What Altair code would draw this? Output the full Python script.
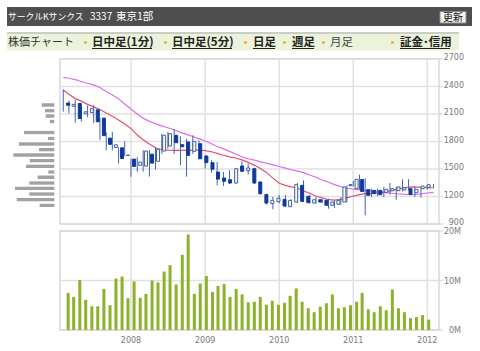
import altair as alt
import pandas as pd

# ---------------- data ----------------
month_start = "2007-02-01"
n_months = 61

opens = [2220, 2184, 2215, 2102, 2116, 2146, 2055, 1837, 1735, 1731,
         1648, 1608, 1540, 1531, 1662, 1584, 1696, 1751, 1868, 1765,
         1795, 1693, 1776, 1642, 1569, 1467, 1402, 1383, 1347, 1533,
         1482, 1503, 1358, 1220, 1122, 1144, 1169, 1089, 1140, 1322,
         1202, 1129, 1165, 1158, 1104, 1115, 1140, 1318, 1285, 1385,
         1275, 1267, 1267, 1242, 1262, 1264, 1271, 1285, 1242, 1285, 1300]
highs = [2369, 2245, 2256, 2172, 2193, 2196, 2060, 1900, 1905, 1737,
         1802, 1613, 1630, 1705, 1708, 1740, 1885, 1904, 1935, 1857,
         1831, 1868, 1813, 1649, 1595, 1576, 1467, 1486, 1510, 1584,
         1558, 1514, 1365, 1231, 1195, 1216, 1213, 1170, 1347, 1377,
         1220, 1195, 1173, 1176, 1158, 1195, 1322, 1370, 1438, 1400,
         1285, 1285, 1304, 1347, 1307, 1387, 1391, 1304, 1285, 1322, 1336]
lows = [2125, 2106, 2004, 2018, 2065, 2000, 1818, 1705, 1702, 1560,
        1640, 1415, 1470, 1471, 1418, 1495, 1667, 1721, 1665, 1540,
        1416, 1667, 1606, 1503, 1460, 1322, 1315, 1336, 1340, 1467,
        1438, 1340, 1220, 1111, 1060, 1127, 1085, 1085, 1133, 1140,
        1122, 1122, 1129, 1067, 1075, 1111, 1133, 1310, 1278, 995,
        1195, 1205, 1195, 1220, 1165, 1255, 1267, 1195, 1187, 1278, 1293]
closes = [2195, 2205, 2051, 2124, 2158, 2015, 1864, 1769, 1764, 1615,
          1652, 1528, 1576, 1696, 1564, 1715, 1868, 1885, 1787, 1743,
          1649, 1802, 1612, 1569, 1497, 1390, 1366, 1347, 1503, 1475,
          1511, 1347, 1231, 1129, 1158, 1180, 1096, 1158, 1329, 1147,
          1133, 1165, 1140, 1104, 1140, 1158, 1304, 1330, 1387, 1255,
          1213, 1231, 1220, 1278, 1285, 1304, 1296, 1220, 1278, 1314, 1329]

ma_short = [2362, 2315, 2268, 2240, 2205, 2178, 2150, 2110, 2075, 2035,
            1990, 1943, 1870, 1820, 1772, 1732, 1710, 1705, 1704, 1704,
            1704, 1705, 1705, 1700, 1688, 1670, 1650, 1632, 1620, 1600,
            1572, 1540, 1505, 1460, 1400, 1345, 1322, 1305, 1290, 1260,
            1235, 1205, 1185, 1165, 1160, 1168, 1185, 1205, 1220, 1232,
            1235, 1240, 1245, 1262, 1278, 1292, 1302, 1304, 1300, 1296, 1293]
ma_long = [2500, 2490, 2475, 2455, 2435, 2418, 2390, 2345, 2310, 2265,
           2210, 2155, 2100, 2055, 2020, 1995, 1970, 1950, 1928, 1900,
           1878, 1855, 1832, 1805, 1775, 1745, 1720, 1692, 1664, 1634,
           1612, 1596, 1578, 1562, 1545, 1527, 1510, 1492, 1476, 1460,
           1435, 1410, 1380, 1355, 1330, 1308, 1290, 1280, 1272, 1265,
           1260, 1255, 1245, 1238, 1230, 1225, 1222, 1222, 1228, 1238, 1245]

volume_m = [7.5, 6.7, 10.1, 6.1, 4.8, 4.8, 8.3, 5.0, 10.4, 10.8,
            6.4, 9.8, 6.5, 7.3, 10.0, 9.6, 11.8, 13.1, 9.2, 15.2,
            19.3, 7.3, 9.4, 10.9, 7.7, 8.9, 9.3, 6.7, 8.3, 7.2,
            5.6, 5.7, 6.7, 5.1, 5.9, 5.1, 5.5, 6.9, 8.4, 5.7,
            4.4, 3.6, 4.7, 5.4, 7.2, 4.4, 4.6, 5.0, 5.7, 7.5,
            4.2, 3.6, 4.8, 4.0, 8.2, 4.4, 3.6, 2.4, 2.6, 3.0, 2.1]

# volume-by-price profile (price band centre, relative volume)
vp_price = [2198, 2136, 2078, 2018, 1898, 1833, 1773, 1711, 1653,
            1591, 1529, 1467, 1410, 1347, 1289, 1227, 1165, 1104]
vp_volume = [12.6, 9.3, 8.6, 4.3, 30.3, 6.3, 35.3, 15.3, 41.0,
             24.6, 28.3, 6.0, 16.6, 25.0, 39.3, 25.0, 37.6, 14.6]

price_ticks = [900, 1200, 1500, 1800, 2100, 2400, 2700]
volume_ticks = [0, 10, 20]
volume_labels = ["0M", "10M", "20M"]
year_ticks = ["2008-01-01", "2009-01-01", "2010-01-01", "2011-01-01", "2012-01-01"]
year_labels = ["2008", "2009", "2010", "2011", "2012"]

# ---------------- tables ----------------
df = pd.DataFrame({
    "date": pd.date_range(month_start, periods=n_months, freq="MS"),
    "open": opens, "high": highs, "low": lows, "close": closes,
    "ma_s": ma_short, "ma_l": ma_long, "vol": volume_m,
})
df["dir"] = ["up" if c >= o else "down" for o, c in zip(opens, closes)]

vp = pd.DataFrame({"lo": [p - 18 for p in vp_price],
                   "hi": [p + 18 for p in vp_price],
                   "v": vp_volume})
pt = pd.DataFrame({"p": price_ticks, "label": [str(p) for p in price_ticks]})
vt = pd.DataFrame({"v": volume_ticks, "label": volume_labels})
yt = pd.DataFrame({"d": pd.to_datetime(year_ticks), "label": year_labels})
one = pd.DataFrame({"k": [0]})

# ---------------- scales ----------------
xs = alt.Scale(domain=[alt.DateTime(year=2007, month=1, date=16),
                       alt.DateTime(year=2012, month=2, date=28)],
               range=[60, 439])
ys = alt.Scale(domain=[900, 2700], range=[224, 59], nice=False, zero=False)
vs = alt.Scale(domain=[0, 20], range=[330, 231], nice=False, zero=True)
hs = alt.Scale(domain=[0, 45], range=[54.3, 9.3], nice=False, zero=True)


def X(f):
    return alt.X(f, type="temporal", scale=xs, axis=None)


def YP(f):
    return alt.Y(f, type="quantitative", scale=ys, axis=None)


def YV(f):
    return alt.Y(f, type="quantitative", scale=vs, axis=None)


CJK = "Noto Sans CJK JP"
NUM = "DejaVu Sans"
GRID = "#e1e1e1"

layers = []

# ---------------- header ----------------
layers.append(alt.Chart(one).mark_rect(color="#4e4e4e").encode(
    x=alt.value(7), x2=alt.value(472), y=alt.value(7), y2=alt.value(26)))
for txt, xpos, fs in [("サークルKサンクス", 8, 8.8), ("3337", 90, 10), ("東京1部", 116, 10.5)]:
    layers.append(alt.Chart(one).mark_text(text=txt, font=CJK, fontSize=fs, color="white",
                                           align="left", baseline="middle").encode(
        x=alt.value(xpos), y=alt.value(16.5)))
layers.append(alt.Chart(one).mark_rect(fill="#f3f3f3", stroke="#8a8a8a", strokeWidth=1).encode(
    x=alt.value(440), x2=alt.value(466), y=alt.value(11.5), y2=alt.value(23)))
layers.append(alt.Chart(one).mark_text(text="更新", font=CJK, fontSize=10, color="#111",
                                       align="center", baseline="middle").encode(
    x=alt.value(453), y=alt.value(17.5)))

# nav bar
layers.append(alt.Chart(one).mark_rect(color="#ebf3da").encode(
    x=alt.value(7), x2=alt.value(459), y=alt.value(33.5), y2=alt.value(50.5)))
layers.append(alt.Chart(one).mark_rule(color="#bdbdbd", strokeWidth=1.5).encode(
    x=alt.value(7), x2=alt.value(459), y=alt.value(33)))
layers.append(alt.Chart(one).mark_text(text="株価チャート", font=CJK, fontSize=11, color="#333",
                                       align="left", baseline="middle").encode(
    x=alt.value(8), y=alt.value(42.5)))
nav = [("日中足(1分)", 86, 92, 152, True),
       ("日中足(5分)", 166, 172, 232, True),
       ("日足", 246, 253, 275, True),
       ("週足", 285, 292, 314, True),
       ("月足", 324, 330, 352, False),
       ("証金･信用", 393, 400, 450, True)]
for txt, tri, x0, x1, link in nav:
    layers.append(alt.Chart(one).mark_point(shape="triangle-right", filled=True, size=14,
                                            color="#f29a12", opacity=1).encode(
        x=alt.value(tri), y=alt.value(42.5)))
    layers.append(alt.Chart(one).mark_text(text=txt, font=CJK, fontSize=11.5,
                                           fontWeight="bold" if link else "normal",
                                           color="#222" if link else "#444",
                                           align="left", baseline="middle").encode(
        x=alt.value(x0), y=alt.value(42.5)))
    if link:
        layers.append(alt.Chart(one).mark_rule(color="#222", strokeWidth=1).encode(
            x=alt.value(x0), x2=alt.value(x1), y=alt.value(48.5)))

# ---------------- grid & frames ----------------
layers.append(alt.Chart(pt).mark_rule(color=GRID, strokeWidth=1.5).encode(
    x=alt.value(60), x2=alt.value(443), y=YP("p")))
layers.append(alt.Chart(vt).mark_rule(color=GRID, strokeWidth=1.5).encode(
    x=alt.value(60), x2=alt.value(443), y=YV("v")))
layers.append(alt.Chart(yt).mark_rule(color=GRID, strokeWidth=1.5).encode(
    x=X("d"), y=alt.value(59), y2=alt.value(224)))
layers.append(alt.Chart(yt).mark_rule(color=GRID, strokeWidth=1.5).encode(
    x=X("d"), y=alt.value(231), y2=alt.value(330)))
for (ya, yb) in [(59, 224), (231, 330)]:
    layers.append(alt.Chart(one).mark_rect(fill="transparent", stroke="#d9d9d9", strokeWidth=1.5).encode(
        x=alt.value(60), x2=alt.value(439), y=alt.value(ya), y2=alt.value(yb)))

# ---------------- volume by price ----------------
layers.append(alt.Chart(vp).mark_rect(color="#a2a2a2").encode(
    x=alt.X("v:Q", scale=hs, axis=None), x2=alt.datum(0),
    y=YP("lo"), y2="hi:Q"))

# ---------------- moving averages ----------------
layers.append(alt.Chart(df).mark_line(color="#dd6cf0", strokeWidth=1.2).encode(
    x=X("date"), y=YP("ma_l")))
layers.append(alt.Chart(df).mark_line(color="#e4506c", strokeWidth=1.2).encode(
    x=X("date"), y=YP("ma_s")))

# ---------------- candles ----------------
layers.append(alt.Chart(df).mark_rule(color="#4163b4", strokeWidth=1).encode(
    x=X("date"), y=YP("low"), y2="high:Q"))
layers.append(alt.Chart(df).mark_bar(size=3, strokeWidth=1).encode(
    x=X("date"), y=YP("open"), y2="close:Q",
    fill=alt.Fill("dir:N", scale=alt.Scale(domain=["up", "down"], range=["#fdfbc8", "#0f3a9c"]), legend=None),
    stroke=alt.Stroke("dir:N", scale=alt.Scale(domain=["up", "down"], range=["#3f60b4", "#0f3a9c"]), legend=None)))

# ---------------- volume ----------------
layers.append(alt.Chart(df).mark_bar(size=3, color="#8cb22c").encode(
    x=X("date"), y=YV("vol"), y2=alt.datum(0)))

# ---------------- labels ----------------
layers.append(alt.Chart(pt).mark_text(font=NUM, fontSize=8, color="#7a7a7a",
                                      align="right", baseline="middle", dy=-1).encode(
    x=alt.value(464), y=YP("p"), text="label:N"))
layers.append(alt.Chart(vt).mark_text(font=NUM, fontSize=8, color="#7a7a7a",
                                      align="right", baseline="middle", dy=1).encode(
    x=alt.value(461), y=YV("v"), text="label:N"))
layers.append(alt.Chart(yt).mark_text(font=NUM, fontSize=8, color="#7a7a7a",
                                      align="center", baseline="middle").encode(
    x=X("d"), y=alt.value(340.5), text="label:N"))

chart = alt.layer(*layers).resolve_scale(
    x="independent", y="independent", fill="independent", stroke="independent"
).properties(
    width=480, height=351, padding=0, autosize="none", background="white"
).configure_view(stroke=None)

chart.save("out.html", embed_options={"renderer": "svg", "actions": False})
